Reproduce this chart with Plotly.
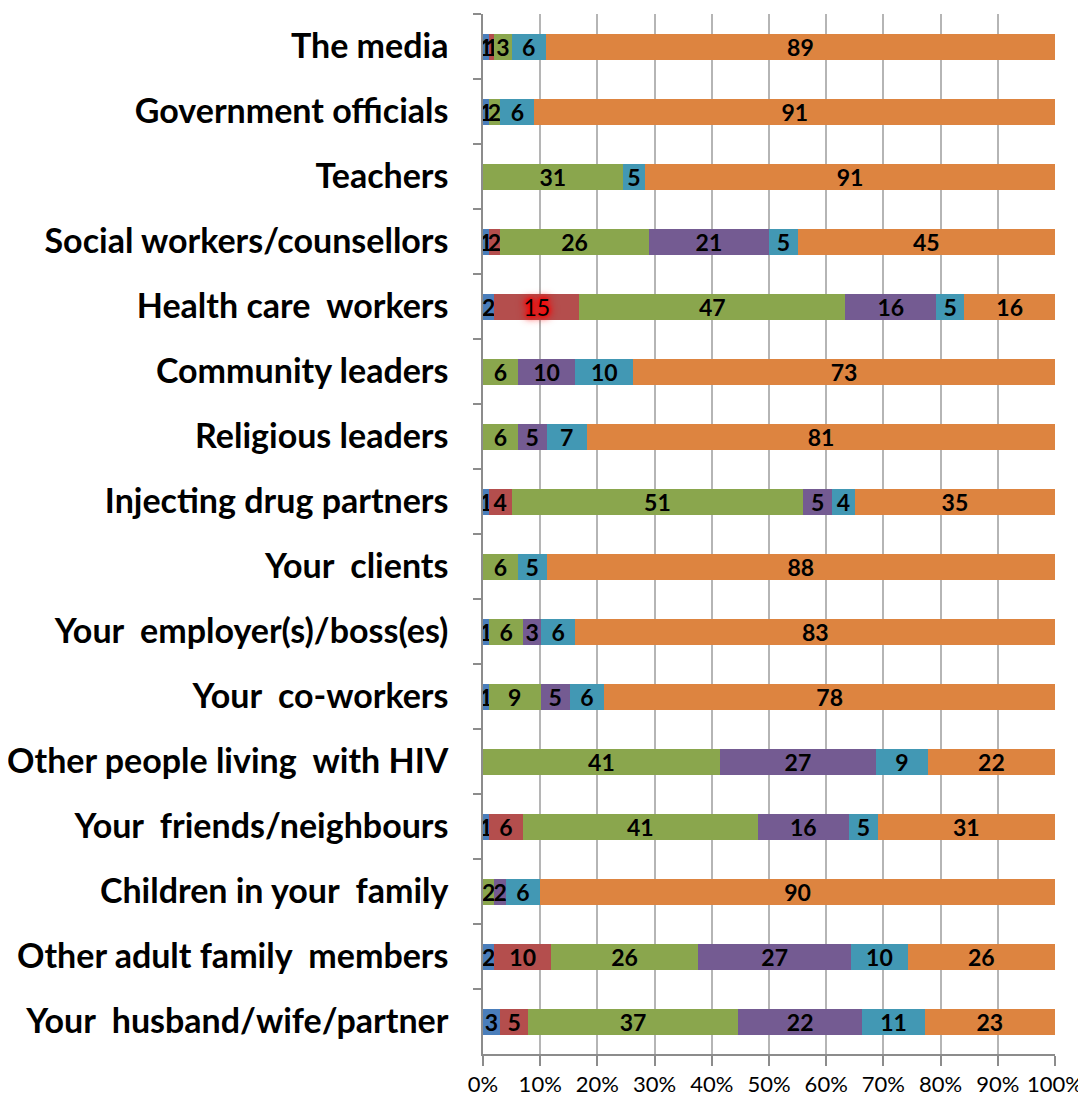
import plotly.graph_objects as go

categories = [
    "The media", "Government officials", "Teachers", "Social workers/counsellors",
    "Health care  workers", "Community leaders", "Religious leaders",
    "Injecting drug partners", "Your  clients", "Your  employer(s)/boss(es)",
    "Your  co-workers", "Other people living  with HIV", "Your  friends/neighbours",
    "Children in your  family", "Other adult family  members", "Your  husband/wife/partner",
]

blue   = [1, 1, None, 1, 2, None, None, 1, None, 1, 1, None, 1, None, 2, 3]
red    = [1, None, None, 2, 15, None, None, 4, None, None, None, None, 6, None, 10, 5]
green  = [3, 2, 31, 26, 47, 6, 6, 51, 6, 6, 9, 41, 41, 2, 26, 37]
purple = [None, None, None, 21, 16, 10, 5, 5, None, 3, 5, 27, 16, 2, 27, 22]
teal   = [6, 6, 5, 5, 5, 10, 7, 4, 5, 6, 6, 9, 5, 6, 10, 11]
orange = [89, 91, 91, 45, 16, 73, 81, 35, 88, 83, 78, 22, 31, 90, 26, 23]

x_ticks = [0, 10, 20, 30, 40, 50, 60, 70, 80, 90, 100]
x_tick_labels = [f"{v}%" for v in x_ticks]

highlight = "Health care  workers"

series = [
    ("blue", blue, "#4a7ebb"),
    ("red", red, "#b44e4d"),
    ("green", green, "#8aa64d"),
    ("purple", purple, "#745b92"),
    ("teal", teal, "#4298b4"),
    ("orange", orange, "#dd8440"),
]

FONT = "Lato, Carlito, Liberation Sans, Arial"
LABEL_SIZE = 23
GLOW = "0px 0px 3px #ff0000, 0px 0px 5px #ff0000, 0px 0px 7px #ff0000, 0px 0px 9px #ff0000, 0px 0px 11px #ff0000"

fig = go.Figure()
for name, vals, color in series:
    texts = ["" if v is None else str(v) for v in vals]
    shadows, sizes, weights = [], [], []
    for cat in categories:
        if name == "red" and cat == highlight:
            shadows.append(GLOW)
            sizes.append(28)
            weights.append("normal")
        else:
            shadows.append("none")
            sizes.append(LABEL_SIZE)
            weights.append("bold")
    fig.add_trace(go.Bar(
        y=categories, x=vals, name=name, orientation="h",
        marker=dict(color=color, line=dict(width=0)),
        text=texts, textposition="inside", insidetextanchor="middle",
        textangle=0, constraintext="none",
        textfont=dict(family=FONT, size=sizes, color="#000000", weight=weights, shadow=shadows),
        width=0.4, showlegend=False,
    ))

fig.update_layout(
    barmode="stack", barnorm="percent",
    width=1086, height=1110,
    margin=dict(l=475, r=39, t=6, b=64, autoexpand=False),
    paper_bgcolor="white", plot_bgcolor="white",
    uniformtext=dict(minsize=LABEL_SIZE, mode="show"),
    font=dict(family=FONT, color="#000000"),
)
fig.update_xaxes(
    range=[0, 100], tickvals=x_ticks, ticktext=x_tick_labels,
    showgrid=True, gridcolor="#b5b5b5", gridwidth=2,
    showline=True, linecolor="#8c8c8c", linewidth=1.5,
    ticks="outside", ticklen=10, tickcolor="#8c8c8c", tickwidth=1.5,
    tickangle=0, automargin=False,
    tickfont=dict(family=FONT, size=22, color="#000000"),
    zeroline=False, fixedrange=True,
)
fig.update_yaxes(
    autorange="reversed", type="category", automargin=False,
    showline=True, linecolor="#8c8c8c", linewidth=1.5,
    ticks="outside", ticklen=8, tickcolor="#8c8c8c", tickwidth=1.5,
    tickson="boundaries", ticklabelstandoff=26,
    tickfont=dict(family=FONT, size=34, color="#000000", weight="bold"),
    showgrid=False, zeroline=False,
)

fig.write_html("out.html")
